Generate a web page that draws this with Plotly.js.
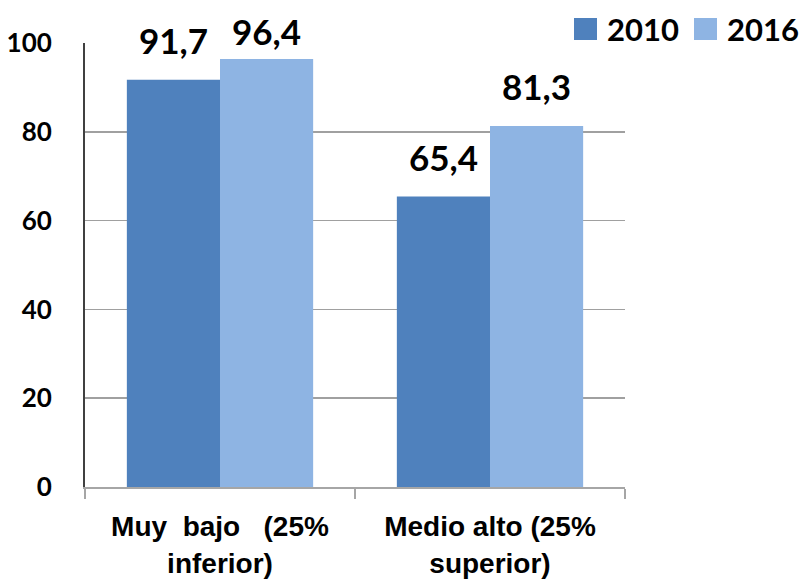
<!DOCTYPE html>
<html>
<head>
<meta charset="utf-8">
<script src="https://cdn.plot.ly/plotly-3.0.1.min.js"></script>
<style>html,body{margin:0;padding:0;background:#fff;}#chart{width:801px;height:582px;}</style>
</head>
<body>
<div id="chart"></div>
<script>
const categories = ["Muy  bajo   (25%<br>inferior)", "Medio alto (25%<br>superior)"];
const seriesNames = ["2010", "2016"];
const values2010 = [91.7, 65.4];
const values2016 = [96.4, 81.3];
const yTicks = [0, 20, 40, 60, 80, 100];

const colors = ["#4F81BD", "#8EB4E3"];
const series = [values2010, values2016];
const fmt = v => v.toFixed(1).replace('.', ',');

const W = 801, H = 582;
const M = {l: 85, r: 176, t: 43, b: 95};
const PW = W - M.l - M.r, PH = H - M.t - M.b;
const px2x = p => (p - M.l) / PW;
const py2y = p => (H - M.b - p) / PH;
const yMax = 100;

const traces = series.map((vals, i) => ({
  type: 'bar',
  name: seriesNames[i],
  x: categories,
  y: vals,
  marker: {color: colors[i]},
  hoverinfo: 'none',
  showlegend: false
}));

const labelFont = {family: 'Lato, "Open Sans", sans-serif', size: 35, color: '#000', weight: 'bold'};
const annotations = [];
series.forEach((vals, i) => {
  vals.forEach((v, j) => {
    // keep labels inside the figure: near the top the gap above the bar shrinks
    const barTopPx = M.t + (yMax - v) / yMax * PH;
    const shift = Math.max(0, Math.min(17, barTopPx - 54));
    annotations.push({
      x: categories[j], y: v, xref: 'x', yref: 'y',
      text: fmt(v), showarrow: false,
      xshift: (i === 0 ? -1 : 1) * 46.7,
      yshift: shift, yanchor: 'bottom',
      font: labelFont
    });
  });
});

// legend (drawn as key squares + text)
const legendStarts = [574, 694];
const shapes = [{
  type: 'rect', xref: 'paper', yref: 'paper', layer: 'above',
  x0: px2x(562), x1: px2x(640), y0: py2y(48), y1: py2y(0),
  fillcolor: '#fff', line: {width: 0}
}];
seriesNames.forEach((name, i) => {
  const x0 = legendStarts[i];
  shapes.push({
    type: 'rect', xref: 'paper', yref: 'paper', layer: 'above',
    x0: px2x(x0), x1: px2x(x0 + 23), y0: py2y(40), y1: py2y(18),
    fillcolor: colors[i], line: {width: 0}
  });
  annotations.push({
    xref: 'paper', yref: 'paper', x: px2x(x0 + 31), y: py2y(29),
    xanchor: 'left', yanchor: 'middle', showarrow: false, text: name,
    font: {family: 'Lato, "Open Sans", sans-serif', size: 31, color: '#000', weight: 'bold'}
  });
});

const layout = {
  width: W, height: H,
  margin: {l: M.l, r: M.r, t: M.t, b: M.b, autoexpand: false},
  paper_bgcolor: '#fff', plot_bgcolor: '#fff',
  barmode: 'group', bargap: 0.31, bargroupgap: 0,
  showlegend: false,
  xaxis: {
    type: 'category',
    showline: true, linecolor: '#A6A6A6', linewidth: 1.5,
    tickson: 'boundaries', ticks: 'outside', ticklen: 10, tickcolor: '#A6A6A6', tickwidth: 1.5,
    ticklabelstandoff: 14,
    tickfont: {family: '"Liberation Sans Narrow", "Arial Narrow", sans-serif', size: 28, color: '#000', weight: 'bold'},
    automargin: false
  },
  yaxis: {
    range: [0, yMax], tickvals: yTicks, ticktext: yTicks.map(String),
    showline: true, linecolor: '#404040', linewidth: 2,
    showgrid: true, gridcolor: '#A0A0A0', gridwidth: 1.5,
    zeroline: false, ticks: '', ticklabelstandoff: 26,
    tickfont: {family: 'Lato, "Open Sans", sans-serif', size: 26, color: '#000', weight: 'bold'},
    automargin: false
  },
  shapes: shapes,
  annotations: annotations
};

Plotly.newPlot('chart', traces, layout, {staticPlot: true, displayModeBar: false});
</script>
</body>
</html>
